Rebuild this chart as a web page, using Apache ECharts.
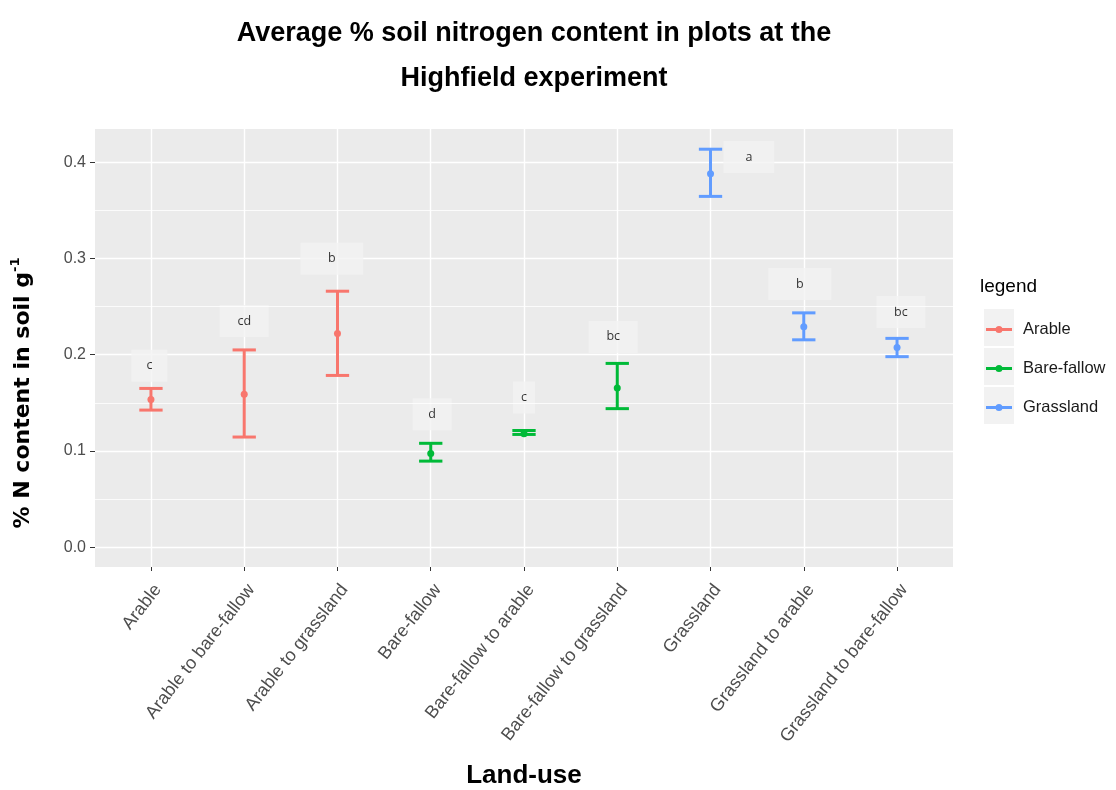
<!DOCTYPE html>
<html>
<head>
<meta charset="utf-8">
<script src="https://cdn.jsdelivr.net/npm/echarts@6/dist/echarts.min.js"></script>
<style>html,body{margin:0;padding:0;background:#fff}#chart{width:1116px;height:790px}</style>
</head>
<body>
<div id="chart"></div>
<script>
const categories = ['Arable','Arable to bare-fallow','Arable to grassland','Bare-fallow','Bare-fallow to arable','Bare-fallow to grassland','Grassland','Grassland to arable','Grassland to bare-fallow'];
const groups = ['Arable','Arable','Arable','Bare-fallow','Bare-fallow','Bare-fallow','Grassland','Grassland','Grassland'];
const meanN  = [0.1535, 0.159, 0.222, 0.0975, 0.118, 0.1655, 0.388, 0.229, 0.2075];
const upperN = [0.165, 0.205, 0.266, 0.108, 0.1213, 0.191, 0.4135, 0.2435, 0.217];
const lowerN = [0.1425, 0.1145, 0.1785, 0.0895, 0.1172, 0.144, 0.3645, 0.2155, 0.198];
const letters = ['c','cd','b','d','c','bc','a','b','bc'];
const letterX = [-0.017, 1, 1.939, 3.014, 4, 4.957, 6.411, 6.957, 8.041];
const letterY = [0.1886, 0.2351, 0.2997, 0.1383, 0.1556, 0.2185, 0.4053, 0.2734, 0.2443];
const legendNames = ['Arable','Bare-fallow','Grassland'];
const yTicks = [0, 0.1, 0.2, 0.3, 0.4];
const yMinor = [0.05, 0.15, 0.25, 0.35];
const xTicks = [0,1,2,3,4,5,6,7,8];

// styling (not data)
const groupColors = {'Arable':'#F8766D','Bare-fallow':'#00BA38','Grassland':'#619CFF'};
const labelBoxW = [36, 49, 63, 39, 22, 49, 51, 63, 49];

const chart = echarts.init(document.getElementById('chart'));

function errRender(color) {
  return function (params, api) {
    const x = api.value(0);
    const pLo = api.coord([x, api.value(1)]);
    const pHi = api.coord([x, api.value(2)]);
    const pM = api.coord([x, api.value(3)]);
    const half = api.size([0.25, 0])[0] / 2;
    const st = {stroke: color, lineWidth: 3, fill: null};
    return {type: 'group', children: [
      {type: 'line', shape: {x1: pHi[0], y1: pHi[1], x2: pLo[0], y2: pLo[1]}, style: st},
      {type: 'line', shape: {x1: pHi[0] - half, y1: pHi[1], x2: pHi[0] + half, y2: pHi[1]}, style: st},
      {type: 'line', shape: {x1: pLo[0] - half, y1: pLo[1], x2: pLo[0] + half, y2: pLo[1]}, style: st},
      {type: 'circle', shape: {cx: pM[0], cy: pM[1], r: 3.5}, style: {fill: color}}
    ]};
  };
}

const groupSeries = legendNames.map(function (g) {
  const data = [];
  categories.forEach(function (c, i) {
    if (groups[i] === g) data.push([i, lowerN[i], upperN[i], meanN[i]]);
  });
  return {
    name: g, type: 'custom', z: 5,
    itemStyle: {color: groupColors[g]},
    renderItem: errRender(groupColors[g]),
    encode: {x: 0, y: [1, 2, 3]},
    data: data
  };
});

const letterData = letters.map(function (l, i) {
  return {value: [letterX[i], letterY[i], l], label: {width: labelBoxW[i]}};
});

const iconPath = 'path://M0,2 L26,2 L26,5 L0,5 Z M9.5,3.5 A3.5,3.5 0 1 1 16.5,3.5 A3.5,3.5 0 1 1 9.5,3.5 Z';

const option = {
  animation: false,
  backgroundColor: '#ffffff',
  title: [{
    text: 'Average % soil nitrogen content in plots at the\nHighfield experiment',
    left: 534, textAlign: 'center', top: 11, padding: 0,
    textStyle: {fontFamily: "'Liberation Sans', Arial, sans-serif", fontWeight: 'bold', fontSize: 27, lineHeight: 45, color: '#000'}
  }, {
    text: 'legend', left: 980, top: 277, padding: 0,
    textStyle: {fontFamily: "'Liberation Sans', Arial, sans-serif", fontWeight: 'normal', fontSize: 19, color: '#000'}
  }],
  grid: {left: 95, right: 163, top: 129, bottom: 223, show: true, backgroundColor: '#ebebeb', borderWidth: 0,
    containLabel: false, outerBoundsMode: 'none'},
  legend: [{
    orient: 'vertical', left: 984, top: 309, padding: 0, itemWidth: 30, itemHeight: 37, itemGap: 2,
    icon: 'rect', selectedMode: false,
    data: legendNames.map(function (n) { return {name: n, itemStyle: {color: '#f2f2f2'}}; }),
    textStyle: {color: 'rgba(0,0,0,0)', fontSize: 16}
  }, {
    orient: 'vertical', left: 986, top: 311, padding: 0, itemWidth: 26, itemHeight: 7, itemGap: 2,
    icon: iconPath, selectedMode: false,
    data: legendNames,
    textStyle: {color: '#1a1a1a', fontSize: 16.5, lineHeight: 37, fontFamily: "'Liberation Sans', Arial, sans-serif", padding: [0, 0, 0, 6]}
  }],
  xAxis: {
    type: 'value', min: -0.6, max: 8.6,
    name: 'Land-use', nameLocation: 'middle', nameGap: 196,
    nameTextStyle: {fontFamily: "'Liberation Sans', Arial, sans-serif", fontWeight: 'bold', fontSize: 26, color: '#000'},
    axisLine: {show: false, onZero: false},
    axisTick: {show: true, length: 4, customValues: xTicks, lineStyle: {color: '#333', width: 1}},
    axisLabel: {
      customValues: xTicks, rotate: 52, margin: 14, verticalAlign: 'top',
      fontFamily: "'Liberation Sans', Arial, sans-serif", fontSize: 18, color: '#4d4d4d',
      formatter: function (v) { return categories[Math.round(v)]; }
    },
    splitLine: {show: true, lineStyle: {color: '#ffffff', width: 1.4}}
  },
  yAxis: {
    type: 'value', min: -0.0205, max: 0.4345,
    name: '{a|% N content in soil g}{b|-1}', nameLocation: 'middle', nameGap: 58, nameRotate: 90,
    nameTextStyle: {
      padding: [0, 90, 0, 0],
      rich: {
        a: {fontFamily: "'DejaVu Sans', sans-serif", fontWeight: 'bold', fontSize: 22, color: '#000', lineHeight: 28},
        b: {fontFamily: "'DejaVu Sans', sans-serif", fontWeight: 'bold', fontSize: 13, color: '#000', verticalAlign: 'top', lineHeight: 14}
      }
    },
    axisLine: {show: false, onZero: false},
    axisTick: {show: true, length: 5, customValues: yTicks, lineStyle: {color: '#333', width: 1}},
    axisLabel: {
      customValues: yTicks, margin: 9,
      fontFamily: "'Liberation Sans', Arial, sans-serif", fontSize: 16, color: '#4d4d4d',
      formatter: function (v) { return v.toFixed(1); }
    },
    splitLine: {show: true, lineStyle: {color: '#ffffff', width: 1.4}}
  },
  series: [{
    name: 'minor', type: 'scatter', z: 1, silent: true, symbolSize: 0, data: [],
    markLine: {
      silent: true, symbol: 'none', label: {show: false}, animation: false,
      lineStyle: {color: '#ffffff', width: 0.8, type: 'solid'},
      emphasis: {disabled: true},
      data: yMinor.map(function (v) { return {yAxis: v}; })
    }
  }].concat(groupSeries).concat([{
    name: 'letters', type: 'scatter', z: 4, silent: true, symbolSize: 0,
    data: letterData,
    label: {
      show: true, position: 'inside', align: 'center', verticalAlign: 'middle',
      formatter: function (p) { return p.value[2]; },
      backgroundColor: '#f2f2f2', padding: [9, 0], lineHeight: 14,
      fontFamily: "'Open Sans', sans-serif", fontSize: 12.5, color: '#000'
    }
  }])
};
chart.setOption(option);
</script>
</body>
</html>
